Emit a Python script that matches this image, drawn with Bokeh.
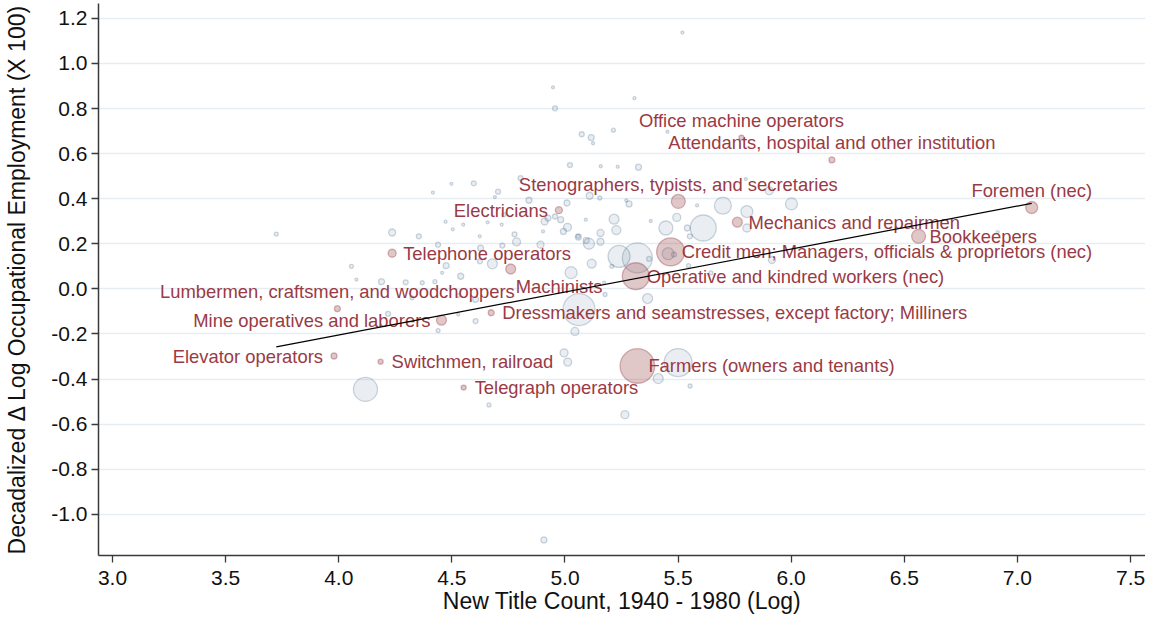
from bokeh.plotting import figure
from bokeh.models import Range1d, FixedTicker, PrintfTickFormatter, ColumnDataSource
from bokeh.embed import file_html
from bokeh.resources import INLINE
from bokeh.core.properties import value
import math

# ---------------- data ----------------
# Unlabelled occupations: log new-title count, decadalized change in log employment, employment weight
other_x = [5.519, 4.947, 4.956, 5.307, 5.074, 5.116, 5.124, 5.214, 5.453, 5.022,
           5.158, 5.233, 5.325, 4.804, 4.597, 4.498, 4.416, 4.704, 4.690, 4.841,
           5.009, 5.109, 5.154, 5.271, 5.283, 5.584, 5.698, 5.804, 5.903, 5.799,
           5.494, 5.446, 5.611, 5.804, 5.217, 5.227, 5.157, 5.092, 5.379, 5.011,
           4.993, 4.981, 4.956, 4.910, 4.903, 4.777, 4.730, 4.658, 4.623, 4.720,
           4.550, 4.472, 4.504, 4.354, 4.236, 4.439, 4.892, 5.058, 5.106, 5.157,
           5.239, 5.320, 5.372, 5.456, 5.482, 5.552, 5.541, 5.118, 5.027, 4.679,
           4.624, 4.539, 4.457, 4.369, 4.296, 4.189, 5.173, 5.365, 5.062, 5.044,
           5.177, 4.605, 4.528, 4.439, 4.218, 4.324, 4.996, 5.012, 4.118, 4.664,
           5.265, 5.412, 5.500, 5.553, 3.724, 4.786, 4.627, 4.723, 4.056, 4.078,
           4.425, 4.475, 4.605, 4.528, 4.925, 5.059, 5.094, 5.207, 6.001, 5.915,
           5.546, 5.645, 6.913, 4.907]
other_y = [1.137, 0.894, 0.801, 0.846, 0.686, 0.671, 0.646, 0.704, 0.697, 0.549,
           0.544, 0.542, 0.540, 0.491, 0.468, 0.466, 0.427, 0.431, 0.407, 0.393,
           0.381, 0.413, 0.403, 0.392, 0.377, 0.370, 0.369, 0.343, 0.435, 0.487,
           0.317, 0.270, 0.270, 0.270, 0.309, 0.261, 0.248, 0.307, 0.301, 0.273,
           0.255, 0.307, 0.321, 0.299, 0.255, 0.242, 0.329, 0.295, 0.233, 0.285,
           0.285, 0.298, 0.264, 0.233, 0.250, 0.196, 0.196, 0.233, 0.200, 0.209,
           0.144, 0.137, 0.133, 0.156, 0.152, 0.233, 0.270, 0.112, 0.072, 0.111,
           0.122, 0.056, 0.071, 0.027, 0.029, 0.032, 0.027, -0.043, -0.092, -0.189,
           -0.025, -0.143, -0.114, -0.185, -0.111, -0.040, -0.284, -0.325, -0.446, -0.515,
           -0.558, -0.398, -0.327, -0.431, 0.243, 0.208, 0.181, 0.192, 0.100, 0.041,
           0.032, 0.103, -0.047, -0.030, 0.314, 0.230, 0.215, 0.100, 0.377, 0.128,
           0.103, 0.071, 0.252, -1.114]
other_w = [2.25, 2.25, 6.25, 2.25, 6.25, 9, 2.25, 4, 2.25, 6.25,
           2.25, 2.25, 9, 6.25, 6.25, 2.25, 2.25, 6.25, 2.25, 9,
           9, 12.25, 4, 2.25, 9, 2.25, 72, 36, 16, 2.25,
           16, 49, 169, 16, 25, 20.25, 12.25, 2.25, 2.25, 16,
           9, 9, 6.25, 12.25, 2.25, 6.25, 4, 2.25, 2.25, 2.25,
           2.25, 2.25, 2.25, 6.25, 12.25, 6.25, 12.25, 4, 30.25, 12.25,
           121, 225, 6.25, 36, 6.25, 6.25, 9, 20.25, 36, 25,
           6.25, 9, 2.25, 4, 6.25, 9, 2.25, 25, 256, 16,
           4, 6.25, 2.25, 4, 6.25, 4, 16, 16, 144, 4,
           16, 25, 196, 4, 4, 16, 9, 6.25, 4, 2.25,
           4, 9, 9, 4, 9, 9, 9, 4, 36, 12.25,
           4, 4, 2.25, 9]

# Labelled occupations
lab_names = ["Office machine operators",
             "Attendants, hospital and other institution",
             "Stenographers, typists, and secretaries",
             "Electricians",
             "Foremen (nec)",
             "Mechanics and repairmen",
             "Bookkeepers",
             "Telephone operators",
             "Credit men; Managers, officials & proprietors (nec)",
             "Operative and kindred workers (nec)",
             "Machinists",
             "Lumbermen, craftsmen, and woodchoppers",
             "Mine operatives and laborers",
             "Dressmakers and seamstresses, except factory; Milliners",
             "Elevator operators",
             "Switchmen, railroad",
             "Telegraph operators",
             "Farmers (owners and tenants)"]
lab_x = [5.780, 6.180, 5.501, 4.973, 7.063, 5.762, 6.563, 4.236, 5.467, 5.313,
         4.760, 3.994, 4.454, 4.674, 3.979, 4.185, 4.552, 5.320]
lab_y = [0.671, 0.572, 0.388, 0.349, 0.361, 0.296, 0.233, 0.158, 0.164, 0.056,
         0.088, -0.088, -0.139, -0.106, -0.298, -0.323, -0.438, -0.342]
lab_w = [6.25, 9, 49, 12.25, 36, 25, 49, 16, 196, 182,
         25, 9, 25, 9, 9, 6.25, 6.25, 300]
# label position (clock convention): 12 above, 3 right, 9 left, 4 lower right
lab_pos = [12, 12, 12, 9, 12, 3, 3, 3, 3, 3, 4, 12, 9, 3, 9, 3, 3, 3]

# weighted linear fit
fit_intercept = -0.967
fit_slope = 0.1906

x_ticks = [3.0, 3.5, 4.0, 4.5, 5.0, 5.5, 6.0, 6.5, 7.0, 7.5]
y_ticks = [-1.0, -0.8, -0.6, -0.4, -0.2, 0.0, 0.2, 0.4, 0.6, 0.8, 1.0, 1.2]

x_title = "New Title Count, 1940 - 1980 (Log)"
y_title = "Decadalized \u0394 Log Occupational Employment (X 100)"

# ---------------- figure ----------------
X0, X1 = 2.938, 7.566
Y0, Y1 = -1.183, 1.266
W, H = 1145, 616
BL, BR, BT, BB = 98, 0, 3, 59
FW, FH = W - BL - BR, H - BT - BB

FONT = "Liberation Sans"
RED = "#90353b"
NAVY = "#1a476f"
LABEL_COLOR = "#9a3a45"

p = figure(width=W, height=H,
           x_range=Range1d(X0, X1), y_range=Range1d(Y0, Y1),
           output_backend="svg", toolbar_location=None,
           min_border_left=BL, min_border_right=BR,
           min_border_top=BT, min_border_bottom=BB)
p.outline_line_color = None
p.background_fill_color = "white"
p.border_fill_color = "white"

p.xgrid.grid_line_color = None
p.ygrid.grid_line_color = "#e6edf2"
p.ygrid.grid_line_width = 1.6
p.ygrid.ticker = FixedTicker(ticks=y_ticks)

for ax, ticks in ((p.xaxis, x_ticks), (p.yaxis, y_ticks)):
    ax.ticker = FixedTicker(ticks=ticks)
    ax.formatter = PrintfTickFormatter(format="%.1f")
    ax.axis_line_color = "#3a3a3a"
    ax.axis_line_width = 1.5
    ax.major_tick_line_color = "#3a3a3a"
    ax.major_tick_line_width = 1.3
    ax.major_tick_out = 7
    ax.major_tick_in = 0
    ax.minor_tick_line_color = None
    ax.major_label_text_font = FONT
    ax.major_label_text_font_size = "21px"
    ax.major_label_text_color = "#111111"
    ax.axis_label_text_font = FONT
    ax.axis_label_text_font_style = "normal"
    ax.axis_label_text_color = "#111111"

p.xaxis.axis_label = x_title
p.xaxis.axis_label_text_font_size = "23px"
p.xaxis.major_label_standoff = 8
p.xaxis.axis_label_standoff = 0

p.yaxis.axis_label = y_title
p.yaxis.axis_label_text_font_size = "23px"
p.yaxis.major_label_standoff = 4
p.yaxis.axis_label_standoff = 18

# bubbles: diameter proportional to sqrt(weight)
other_src = ColumnDataSource(dict(x=other_x, y=other_y,
                                  s=[2 * math.sqrt(w) for w in other_w]))
p.scatter("x", "y", size="s", source=other_src, marker="circle",
          fill_color=NAVY, fill_alpha=0.09, line_color=NAVY, line_alpha=0.22,
          line_width=1.3)

lab_src = ColumnDataSource(dict(x=lab_x, y=lab_y,
                                s=[2 * math.sqrt(w) for w in lab_w]))
p.scatter("x", "y", size="s", source=lab_src, marker="circle",
          fill_color=RED, fill_alpha=0.28, line_color=RED, line_alpha=0.35,
          line_width=1.3)

# labels (offsets in screen pixels converted to data units)
ppx = FW / (X1 - X0)
ppy = FH / (Y1 - Y0)
groups = {"center": ([], [], []), "left": ([], [], []), "right": ([], [], [])}
for name, x, y, pos in zip(lab_names, lab_x, lab_y, lab_pos):
    if pos == 12:
        key, dx, dy = "center", 0, 17
    elif pos == 3:
        key, dx, dy = "left", 11, 0
    elif pos == 9:
        key, dx, dy = "right", -11, 0
    else:  # 4 o'clock
        key, dx, dy = "left", 5, -18
    gx, gy, gt = groups[key]
    gx.append(x + dx / ppx)
    gy.append(y + dy / ppy)
    gt.append(name)

for align, (gx, gy, gt) in groups.items():
    if not gt:
        continue
    p.text(x=gx, y=gy, text=gt, text_align=align, text_baseline="middle",
           text_font=value(FONT), text_font_size=value("18.4px"),
           text_color=LABEL_COLOR)

# fitted line over the observed x range
all_x = other_x + lab_x
fx = [min(all_x), max(all_x)]
fy = [fit_intercept + fit_slope * v for v in fx]
p.line(fx, fy, line_color="black", line_width=1.2)

open("out.html", "w").write(file_html(p, INLINE))
